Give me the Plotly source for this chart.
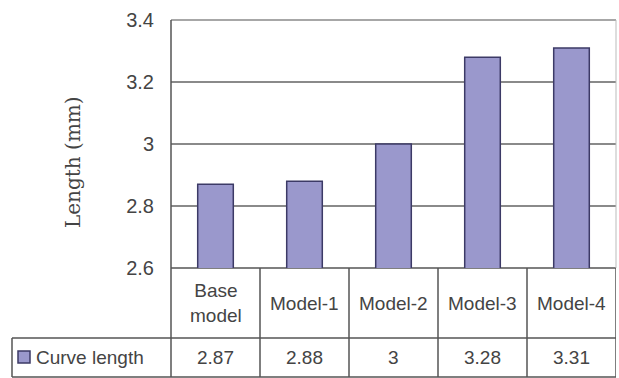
import plotly.graph_objects as go

# Data
categories = ["Base<br>model", "Model-1", "Model-2", "Model-3", "Model-4"]
curve_length = [2.87, 2.88, 3.0, 3.28, 3.31]
value_labels = ["2.87", "2.88", "3", "3.28", "3.31"]
series_name = "Curve length"
y_ticks = [2.6, 2.8, 3.0, 3.2, 3.4]
y_tick_text = ["2.6", "2.8", "3", "3.2", "3.4"]

W, H = 619, 378
L, R, T, B = 171, 3, 20, 110
PW, PH = W - L - R, H - T - B

def px_x(p):
    return (p - L) / PW

def px_y(p):
    return (H - B - p) / PH

BAR_FILL = "#9a98cc"
BAR_LINE = "#3c3a66"
LINE_COL = "#555555"
GRID_COL = "#8a8a8a"
TEXT_COL = "#444444"
FONT = "Liberation Sans"

fig = go.Figure()
fig.add_trace(go.Bar(
    x=list(range(len(categories))),
    y=curve_length,
    width=0.4,
    marker=dict(color=BAR_FILL, line=dict(color=BAR_LINE, width=1.5)),
    name=series_name,
    showlegend=False,
))

shapes = []
annotations = []

# table geometry (pixel rows)
row1_bottom = 338
row2_bottom = 377
left_edge = 12

def hline(x0, x1, y, color=LINE_COL, width=1.5):
    shapes.append(dict(type="line", xref="paper", yref="paper",
                       x0=x0, x1=x1, y0=y, y1=y,
                       line=dict(color=color, width=width), layer="below"))

# top frame line at the axis maximum
hline(0, 1, 1, GRID_COL)
# table horizontal lines
hline(0, 1, 0)
hline(px_x(left_edge), 1, px_y(row1_bottom))
hline(px_x(left_edge), 1, px_y(row2_bottom))
# left edge of value row
shapes.append(dict(type="line", xref="paper", yref="paper",
                   x0=px_x(left_edge), x1=px_x(left_edge),
                   y0=px_y(row1_bottom), y1=px_y(row2_bottom),
                   line=dict(color=LINE_COL, width=1.5)))
# left axis line running through the table
shapes.append(dict(type="line", xref="paper", yref="paper",
                   x0=0, x1=0, y0=1, y1=px_y(row2_bottom),
                   line=dict(color=LINE_COL, width=1.5)))
# right border of the plot area (light)
shapes.append(dict(type="line", xref="paper", yref="paper",
                   x0=1, x1=1, y0=1, y1=0,
                   line=dict(color="#bbbbbb", width=1)))
# column separators in the table
for i in range(len(categories)):
    xb = i + 0.5
    shapes.append(dict(type="line", xref="x", yref="paper",
                       x0=xb, x1=xb, y0=0, y1=px_y(row2_bottom),
                       line=dict(color=LINE_COL, width=1.5)))

# category and value text
for i, (c, v) in enumerate(zip(categories, value_labels)):
    annotations.append(dict(x=i, y=px_y((268 + row1_bottom) / 2), xref="x", yref="paper",
                            xanchor="center", yanchor="middle",
                            text=c, showarrow=False,
                            font=dict(family=FONT, size=19, color=TEXT_COL)))
    annotations.append(dict(x=i, y=px_y((row1_bottom + row2_bottom) / 2), xref="x", yref="paper",
                            xanchor="center", yanchor="middle",
                            text=v, showarrow=False,
                            font=dict(family=FONT, size=19, color=TEXT_COL)))

# legend key inside the table
shapes.append(dict(type="rect", xref="paper", yref="paper",
                   x0=px_x(18), x1=px_x(30), y0=px_y(351), y1=px_y(363),
                   fillcolor=BAR_FILL, line=dict(color=BAR_LINE, width=1.5)))
annotations.append(dict(x=px_x(34), y=px_y(357.5), xref="paper", yref="paper",
                        xanchor="left", yanchor="middle", text=series_name, showarrow=False,
                        font=dict(family=FONT, size=19, color=TEXT_COL)))

# y-axis title
annotations.append(dict(x=px_x(73), y=px_y(162), xref="paper", yref="paper",
                        xanchor="center", yanchor="middle",
                        text="Length (mm)", textangle=-90, showarrow=False,
                        font=dict(family="DejaVu Serif", size=20, color=TEXT_COL)))

fig.update_layout(
    width=W, height=H,
    margin=dict(l=L, r=R, t=T, b=B),
    paper_bgcolor="white", plot_bgcolor="white",
    xaxis=dict(range=[-0.5, 4.5], showticklabels=False, showgrid=False,
               zeroline=False, showline=False, fixedrange=True),
    yaxis=dict(range=[2.6, 3.4], tickvals=y_ticks, ticktext=y_tick_text,
               showgrid=True, gridcolor=GRID_COL, gridwidth=1.5,
               zeroline=False, showline=False, ticks="",
               ticklabelstandoff=16,
               tickfont=dict(family=FONT, size=20, color=TEXT_COL)),
    shapes=shapes,
    annotations=annotations,
    bargap=0.6,
)

fig.write_html("out.html")
